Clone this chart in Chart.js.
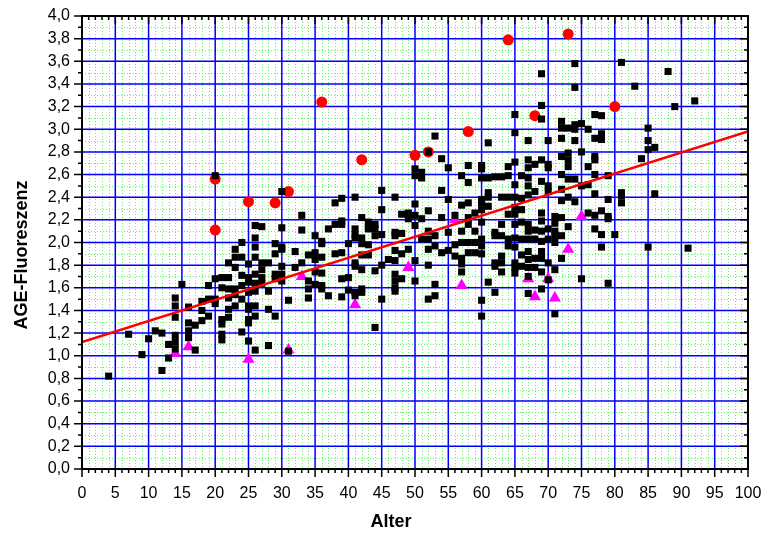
<!DOCTYPE html>
<html>
<head>
<meta charset="utf-8">
<title>AGE-Fluoreszenz</title>
<script src="https://cdn.jsdelivr.net/npm/chart.js@4.4.1/dist/chart.umd.min.js"></script>
<style>
  html, body { margin: 0; padding: 0; background: #fff; }
  #wrap { width: 764px; height: 535px; }
</style>
</head>
<body>
<div id="wrap"><canvas id="ageChart"></canvas></div>
<script>
// Messwerte: Alter (Jahre) und AGE-Fluoreszenz, gruppiert nach Alter
const blackAges = [4, 7, 9, 10, 11, 12, 13, 14, 15, 16, 17, 18, 19, 20, 21, 22, 23, 24, 25, 26,
  27, 28, 29, 30, 31, 32, 33, 34, 35, 36, 37, 38, 39, 40, 41, 42, 43, 44, 45, 46,
  47, 48, 49, 50, 51, 52, 53, 54, 55, 56, 57, 58, 59, 60, 61, 62, 63, 64, 65, 66,
  67, 68, 69, 70, 71, 72, 73, 74, 75, 76, 77, 78, 79, 80, 81, 83, 84, 85, 86, 88,
  89, 91, 92];
const blackValues = [
  [0.82], [1.19], [1.01], [1.15], [1.22], [1.20, 0.87], [1.10, 0.98],
  [1.51, 1.44, 1.34, 1.18, 1.12, 1.06],
  [1.63],
  [1.43, 1.29, 1.22, 1.16],
  [1.27, 1.05],
  [1.48, 1.40, 1.31],
  [1.62, 1.50, 1.35],
  [2.59, 1.68, 1.50, 1.46],
  [1.69, 1.60, 1.32, 1.28, 1.19, 1.14],
  [1.82, 1.69, 1.59, 1.51, 1.41, 1.34],
  [1.94, 1.87, 1.78, 1.59, 1.54, 1.44],
  [2.00, 1.87, 1.71, 1.62, 1.50, 1.21],
  [1.81, 1.69, 1.65, 1.56, 1.44, 1.41, 1.32, 1.29, 1.13],
  [2.15, 2.04, 1.96, 1.87, 1.72, 1.64, 1.57, 1.44, 1.35, 1.05],
  [2.14, 1.82, 1.76, 1.69, 1.64],
  [1.82, 1.57, 1.41, 1.09],
  [1.99, 1.90, 1.72, 1.68, 1.35],
  [2.45, 2.13, 1.96, 1.94, 1.79, 1.72, 1.66],
  [1.49, 1.04],
  [1.92, 1.78],
  [2.24, 2.11, 1.82],
  [1.89, 1.66, 1.59, 1.51],
  [2.06, 1.91, 1.85, 1.74, 1.63],
  [2.01, 1.99, 1.87, 1.73, 1.62, 1.59],
  [2.12, 1.53],
  [2.35, 2.16, 1.90],
  [2.39, 2.19, 2.16, 1.91, 1.68, 1.52],
  [1.99, 1.69, 1.58],
  [2.40, 2.12, 2.07, 2.04, 1.82, 1.79, 1.56, 1.53],
  [2.22, 2.04, 1.99, 1.89, 1.76, 1.59, 1.56],
  [2.18, 2.14, 2.12, 1.98, 1.89],
  [2.16, 2.12, 2.06, 1.75, 1.25],
  [2.46, 2.29, 2.07, 1.80, 1.50],
  [1.85],
  [2.40, 2.09, 2.06, 1.93, 1.84, 1.72, 1.66, 1.60, 1.57],
  [2.25, 2.08, 1.90, 1.68],
  [2.26, 2.21, 1.94],
  [2.65, 2.59, 2.34, 2.24, 2.15, 1.84, 1.66],
  [2.62, 2.57, 2.21, 2.03],
  [2.80, 2.28, 2.10, 2.03, 1.94, 1.80, 1.50],
  [2.94, 2.06, 1.97, 1.63, 1.53],
  [2.74, 2.46, 2.22, 1.91],
  [2.66, 2.38, 2.09, 1.93],
  [2.24, 1.98, 1.88],
  [2.59, 2.33, 2.10, 2.00, 1.86, 1.81, 1.74],
  [2.68, 2.53, 2.35, 2.22, 2.16, 2.00, 1.91],
  [2.26, 2.10, 2.00, 1.91],
  [2.68, 2.65, 2.57, 2.38, 2.35, 2.29, 2.18, 2.03, 1.97, 1.90, 1.49, 1.35],
  [2.88, 2.57, 2.44, 2.40, 2.32, 1.65],
  [2.58, 2.09, 2.06, 1.82, 1.79, 1.56],
  [2.58, 2.40, 2.16, 2.06, 1.88, 1.82, 1.74],
  [2.67, 2.59, 2.40, 2.25, 2.03, 1.97],
  [3.13, 2.97, 2.71, 2.51, 2.40, 2.31, 2.25, 2.16, 2.04, 1.96, 1.82, 1.78, 1.73],
  [2.59, 2.39, 2.29, 2.18, 2.03, 1.89, 1.79],
  [2.90, 2.73, 2.66, 2.57, 2.50, 2.42, 2.16, 2.10, 2.03, 1.92, 1.85, 1.78, 1.70, 1.55],
  [2.69, 2.45, 2.11, 2.03, 1.86, 1.78],
  [3.49, 3.21, 3.09, 2.73, 2.54, 2.26, 2.19, 2.10, 2.01, 1.92, 1.86, 1.74, 1.59],
  [2.90, 2.69, 2.66, 2.50, 2.45, 2.12, 2.03, 1.82, 1.67],
  [2.23, 2.17, 2.10, 2.06, 2.00, 1.76, 1.37],
  [3.07, 3.01, 2.92, 2.76, 2.60, 2.47, 2.37, 2.22, 2.06, 1.86],
  [3.01, 2.79, 2.73, 2.67, 2.56, 2.40, 2.14],
  [3.58, 3.37, 3.04, 3.00, 2.90, 2.56, 2.36],
  [3.05, 2.80, 2.50, 1.68],
  [3.00, 2.67, 2.51, 2.26],
  [3.13, 2.92, 2.76, 2.73, 2.60, 2.43, 2.24, 2.12],
  [3.12, 2.96, 2.91, 2.28, 2.07, 1.96],
  [2.59, 2.38, 2.23, 2.21, 1.64],
  [2.07],
  [3.59, 2.44, 2.41, 2.35],
  [3.38], [2.74],
  [3.01, 2.90, 2.82, 1.96],
  [2.84, 2.43],
  [3.51], [3.20], [1.95], [3.25]
];

// obere Ausreisser (rote Kreise)
const highAges = [20, 20, 25, 29, 31, 36, 42, 50, 52, 58, 64, 68, 73, 80];
const highValues = [2.56, 2.11, 2.36, 2.35, 2.45, 3.24, 2.73, 2.77, 2.80, 2.98, 3.79, 3.12, 3.84, 3.20];

// untere Ausreisser (Dreiecke)
const lowAges = [14, 16, 25, 31, 33, 41, 49, 56, 57, 67, 68, 70, 71, 73, 75];
const lowValues = [1.02, 1.08, 0.97, 1.05, 1.70, 1.45, 1.78, 2.20, 1.62, 1.68, 1.52, 1.68, 1.51, 1.94, 2.23];

// lineare Regression
const fitAges = [0, 100];
const fitValues = [1.12, 2.98];

const xTitle = 'Alter';
const yTitle = 'AGE-Fluoreszenz';

const toPoints = (xs, ys) => xs.map((x, i) => ({ x, y: ys[i] }));

const blackPoints = [];
blackAges.forEach((age, i) => {
  blackValues[i].forEach(v => blackPoints.push({ x: age, y: v }));
});

const FONT = '"Liberation Sans", Arial, sans-serif';

// Raster, Achsenrahmen und Teilstriche im Stil von Origin
const originFrame = {
  id: 'originFrame',
  beforeDatasetsDraw(chart) {
    const { ctx, chartArea: a, scales: { x, y } } = chart;
    ctx.save();
    ctx.beginPath();
    ctx.rect(a.left, a.top, a.right - a.left, a.bottom - a.top);
    ctx.clip();

    // Nebengitter: gruen gepunktet
    ctx.strokeStyle = '#66ee66';
    ctx.lineWidth = 1;
    ctx.setLineDash([1, 2]);
    ctx.beginPath();
    for (let v = 1; v < 100; v++) {
      if (v % 5 === 0) continue;
      const px = Math.round(x.getPixelForValue(v)) + 0.5;
      ctx.moveTo(px, a.top);
      ctx.lineTo(px, a.bottom);
    }
    for (let k = 1; k < 40; k += 2) {
      const py = Math.round(y.getPixelForValue(k / 10)) + 0.5;
      ctx.moveTo(a.left, py);
      ctx.lineTo(a.right, py);
    }
    ctx.stroke();

    // Hauptgitter: blau
    ctx.setLineDash([]);
    ctx.strokeStyle = '#0000ff';
    ctx.lineWidth = 1.5;
    ctx.beginPath();
    for (let v = 5; v < 100; v += 5) {
      const px = x.getPixelForValue(v);
      ctx.moveTo(px, a.top);
      ctx.lineTo(px, a.bottom);
    }
    for (let k = 2; k < 40; k += 2) {
      const py = y.getPixelForValue(k / 10);
      ctx.moveTo(a.left, py);
      ctx.lineTo(a.right, py);
    }
    ctx.stroke();
    ctx.restore();
  },
  afterDraw(chart) {
    const { ctx, chartArea: a, scales: { x, y } } = chart;
    ctx.save();
    ctx.strokeStyle = '#000';
    ctx.lineWidth = 1.5;
    ctx.beginPath();
    for (let v = 0; v <= 100; v++) {
      const len = v % 5 === 0 ? 8 : 4;
      const px = x.getPixelForValue(v);
      ctx.moveTo(px, a.bottom);
      ctx.lineTo(px, a.bottom + len);
      ctx.moveTo(px, a.top);
      ctx.lineTo(px, a.top + len);
    }
    for (let k = 0; k <= 40; k++) {
      const len = k % 2 === 0 ? 8 : 4;
      const py = y.getPixelForValue(k / 10);
      ctx.moveTo(a.left - len, py);
      ctx.lineTo(a.left, py);
      ctx.moveTo(a.right - len, py);
      ctx.lineTo(a.right, py);
    }
    ctx.stroke();

    ctx.lineWidth = 2;
    ctx.strokeRect(a.left, a.top, a.right - a.left, a.bottom - a.top);

    // Achsentitel
    ctx.fillStyle = '#000';
    ctx.font = 'bold 18px ' + FONT;
    ctx.textAlign = 'center';
    ctx.textBaseline = 'middle';
    ctx.fillText(xTitle, 391, 522);
    ctx.translate(22, 255);
    ctx.rotate(-Math.PI / 2);
    ctx.fillText(yTitle, 0, 0);
    ctx.restore();
  }
};

// Randabstand der Achsen festlegen, damit der Plotbereich exakt sitzt
const fixX = scale => { scale.height = 66; scale.paddingLeft = 0; scale.paddingRight = 0; };
const fixY = scale => { scale.width = 82; scale.paddingTop = 0; scale.paddingBottom = 0; };

const config = {
  type: 'scatter',
  data: {
    datasets: [
      {
        type: 'line',
        label: 'Regression',
        data: toPoints(fitAges, fitValues),
        borderColor: '#ff0000',
        borderWidth: 2.5,
        pointRadius: 0,
        fill: false,
        order: 0
      },
      {
        label: 'Messwerte',
        data: blackPoints,
        pointStyle: 'rect',
        pointRadius: 5,
        backgroundColor: '#000',
        borderColor: '#000',
        borderWidth: 0,
        order: 1
      },
      {
        label: 'untere Werte',
        data: toPoints(lowAges, lowValues),
        pointStyle: 'triangle',
        pointRadius: 7,
        backgroundColor: '#ff00ff',
        borderColor: '#ff00ff',
        borderWidth: 0,
        order: 2
      },
      {
        label: 'obere Werte',
        data: toPoints(highAges, highValues),
        pointStyle: 'circle',
        pointRadius: 5.5,
        backgroundColor: '#ff0000',
        borderColor: '#ff0000',
        borderWidth: 0,
        order: 3
      }
    ]
  },
  options: {
    responsive: true,
    maintainAspectRatio: false,
    animation: false,
    devicePixelRatio: 1,
    layout: { padding: { top: 16, right: 16, left: 0, bottom: 0 } },
    plugins: {
      legend: { display: false },
      tooltip: { enabled: false }
    },
    scales: {
      x: {
        type: 'linear',
        min: 0,
        max: 100,
        afterFit: fixX,
        grid: { display: false, drawTicks: false },
        border: { display: false },
        ticks: {
          stepSize: 5,
          autoSkip: false,
          maxRotation: 0,
          padding: 15,
          color: '#000',
          font: { family: FONT, size: 16 }
        }
      },
      y: {
        type: 'linear',
        min: 0,
        max: 4,
        afterFit: fixY,
        grid: { display: false, drawTicks: false },
        border: { display: false },
        ticks: {
          stepSize: 0.2,
          autoSkip: false,
          padding: 12,
          color: '#000',
          font: { family: FONT, size: 16 },
          callback: v => v.toFixed(1).replace('.', ',')
        }
      }
    }
  },
  plugins: [originFrame]
};

const ctx = document.getElementById('ageChart').getContext('2d');
if (ctx !== null) {
  const ageChart = new Chart(ctx, config);
}
</script>
</body>
</html>
